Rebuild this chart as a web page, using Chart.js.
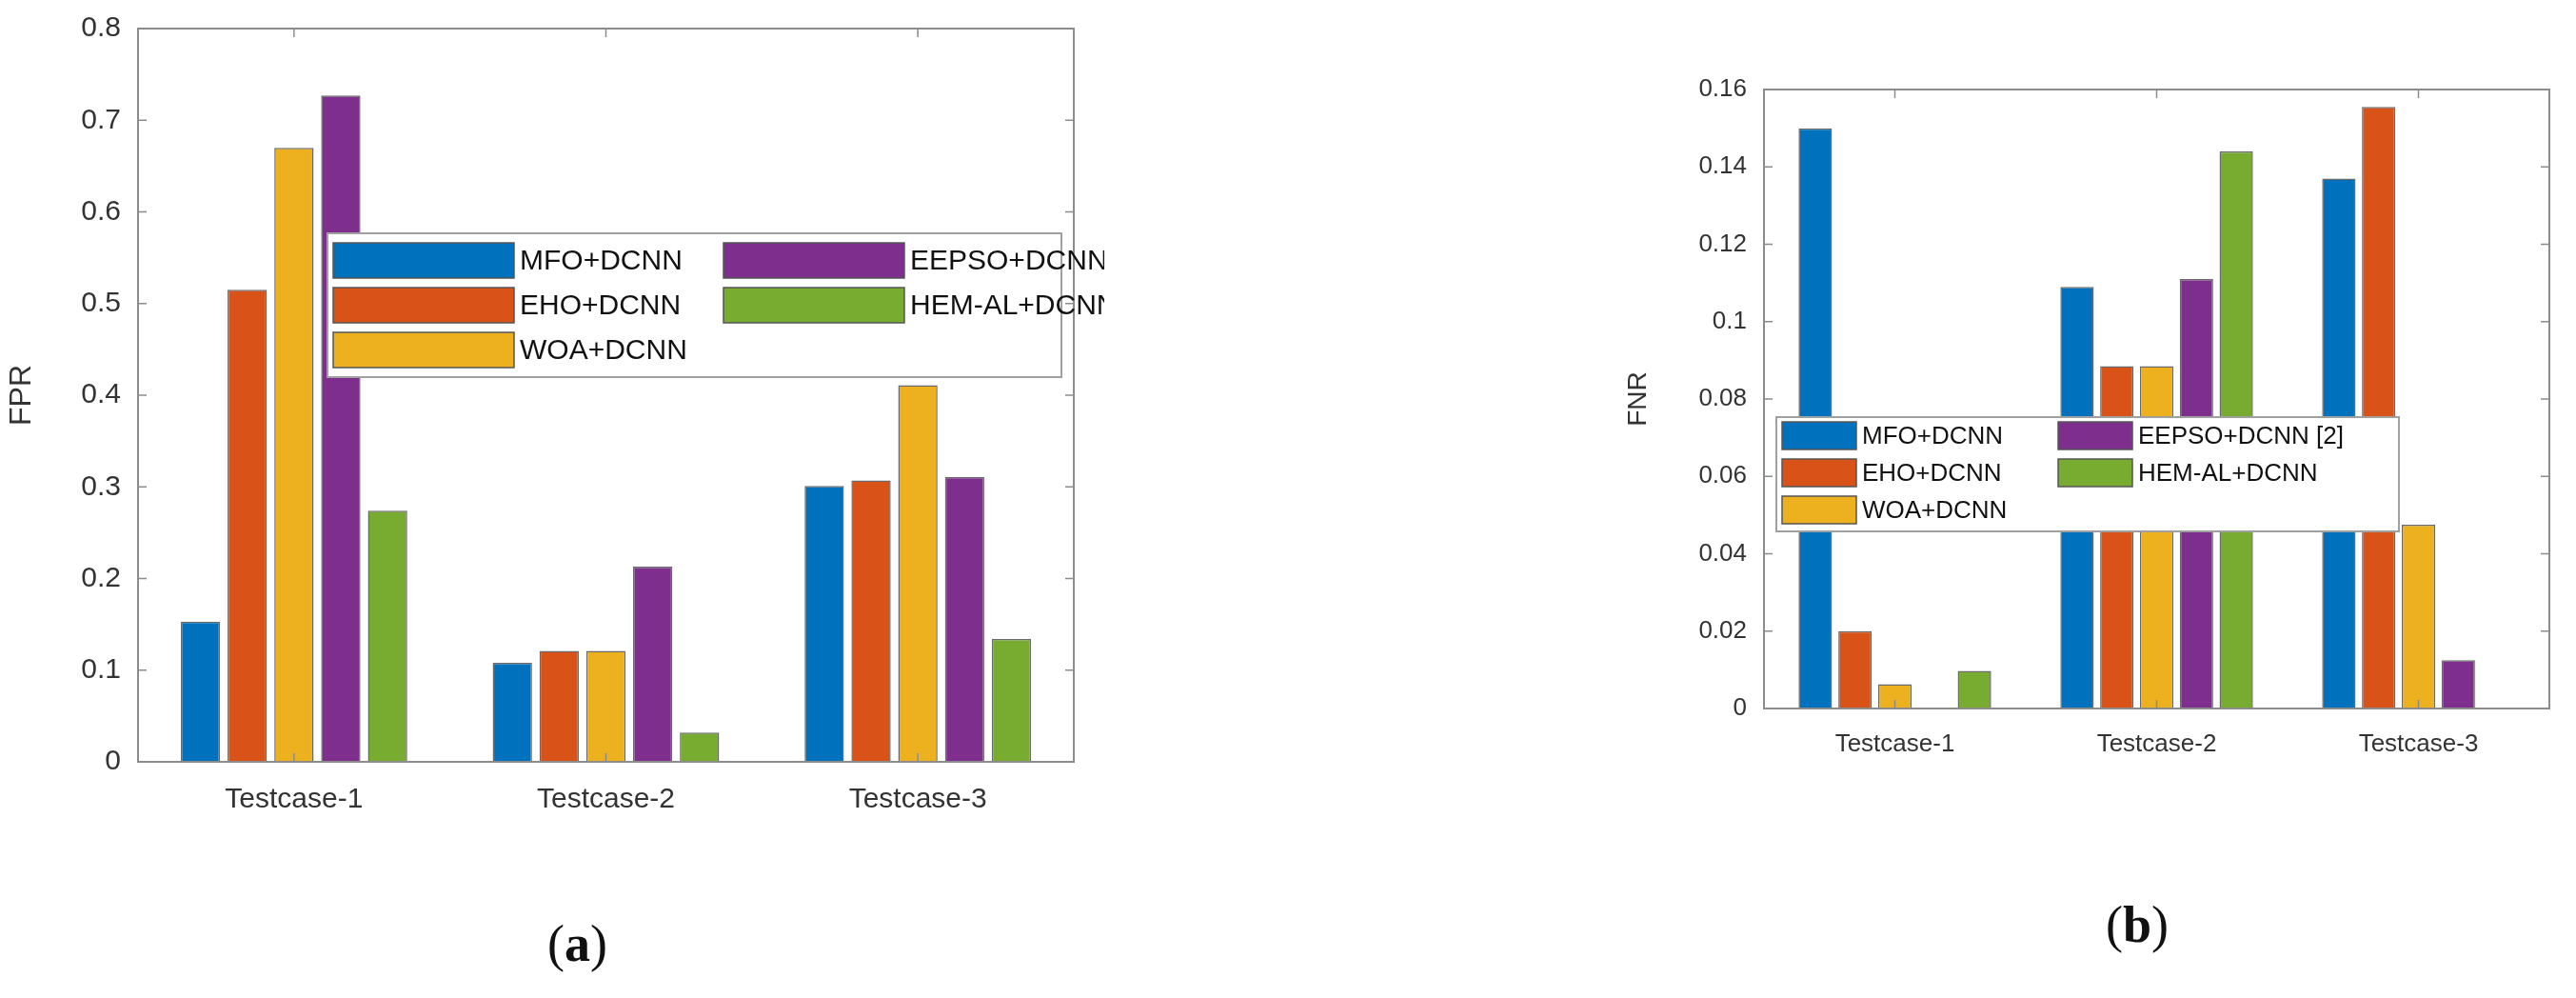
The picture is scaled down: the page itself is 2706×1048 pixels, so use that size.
<!DOCTYPE html>
<html><head><meta charset="utf-8">
<script src="https://cdn.jsdelivr.net/npm/chart.js@4"></script>
<style>
body{margin:0;background:#fff;width:2706px;height:1048px;position:relative;overflow:hidden;font-family:"Liberation Sans",Arial,sans-serif}
.c{position:absolute}
.cap{position:absolute;font-family:"Liberation Serif","DejaVu Serif",serif;font-size:54px;color:#111}
</style></head><body>
<div class="c" style="left:0;top:0;width:1160px;height:880px"><canvas id="c1"></canvas></div>
<div class="c" style="left:1700px;top:0;width:1006px;height:830px"><canvas id="c2"></canvas></div>
<div class="cap" style="left:575px;top:960px">(<b>a</b>)</div>
<div class="cap" style="left:2212px;top:940px">(<b>b</b>)</div>
<script>
const categories=["Testcase-1","Testcase-2","Testcase-3"];
const seriesNames=["MFO+DCNN","EHO+DCNN","WOA+DCNN","EEPSO+DCNN [2]","HEM-AL+DCNN"];
const colors=["#0072BD","#D95319","#EDB120","#7E2F8E","#77AC30"];
const fprMFO=[0.153,0.108,0.301];
const fprEHO=[0.515,0.121,0.307];
const fprWOA=[0.670,0.121,0.411];
const fprEEPSO=[0.727,0.213,0.311];
const fprHEM=[0.274,0.032,0.134];
const fnrMFO=[0.150,0.109,0.137];
const fnrEHO=[0.020,0.0885,0.1555];
const fnrWOA=[0.0063,0.0885,0.0475];
const fnrEEPSO=[0,0.111,0.0125];
const fnrHEM=[0.0097,0.144,0];
const fprTicks=[0,0.1,0.2,0.3,0.4,0.5,0.6,0.7,0.8];
const fnrTicks=[0,0.02,0.04,0.06,0.08,0.1,0.12,0.14,0.16];

function boxPlugin(leg){return{id:'box',afterDraw(ch){
  const c=ch.ctx,a=ch.chartArea;c.save();c.strokeStyle='#8c8c8c';c.lineWidth=2;
  c.strokeRect(a.left,a.top,a.right-a.left,a.bottom-a.top);
  const y=ch.scales.y,x=ch.scales.x;c.lineWidth=1.5;
  y.ticks.forEach(t=>{const p=y.getPixelForValue(t.value);c.beginPath();c.moveTo(a.left,p);c.lineTo(a.left+9,p);c.moveTo(a.right,p);c.lineTo(a.right-9,p);c.stroke();});
  for(let i=0;i<categories.length;i++){const p=x.getPixelForValue(i);c.beginPath();c.moveTo(p,a.bottom);c.lineTo(p,a.bottom-9);c.moveTo(p,a.top);c.lineTo(p,a.top+9);c.stroke();}
  // legend
  c.fillStyle='#fff';c.fillRect(leg.x,leg.y,leg.w,leg.h);c.strokeStyle='#a0a0a0';c.lineWidth=2;c.strokeRect(leg.x,leg.y,leg.w,leg.h);
  c.font=leg.fs+'px "Liberation Sans",Arial';c.textBaseline='middle';
  seriesNames.forEach((n,i)=>{const col=i<3?0:1,row=i<3?i:i-3;
    const bx=leg.x+6+col*leg.cw,by=leg.y+leg.pad+row*leg.rh;
    c.fillStyle=colors[i];c.fillRect(bx,by,leg.sw,leg.rh-10);c.strokeStyle='#555';c.lineWidth=1.5;c.strokeRect(bx,by,leg.sw,leg.rh-10);
    c.fillStyle='#111';c.fillText(n,bx+leg.sw+6,by+(leg.rh-10)/2+1);});
  c.restore();}}}

function make(id,vals,ticks,max,title,yw,xh,pad,fs,cp,leg){
  const ds=vals.map((v,i)=>({label:seriesNames[i],data:v,backgroundColor:colors[i],borderColor:'#6a6a6a',borderWidth:1.5,categoryPercentage:cp,barPercentage:0.84}));
  new Chart(document.getElementById(id),{type:'bar',data:{labels:categories,datasets:ds},
   options:{responsive:true,maintainAspectRatio:false,animation:false,layout:{padding:pad},
    plugins:{legend:{display:false},tooltip:{enabled:false}},
    scales:{x:{grid:{display:false},border:{display:false},ticks:{color:'#333',font:{size:fs,family:'"Liberation Sans",Arial'},padding:14},afterFit(s){s.height=xh;}},
     y:{min:0,max:max,afterBuildTicks(s){s.ticks=ticks.map(v=>({value:v}));},grid:{display:false},border:{display:false},
      ticks:{color:'#333',font:{size:fs,family:'"Liberation Sans",Arial'},padding:10,callback:v=>String(+v.toFixed(3))},
      title:{display:true,text:title,color:'#333',font:{size:fs+2,family:'"Liberation Sans",Arial'}},afterFit(s){s.width=yw;}}}},
   plugins:[boxPlugin(leg)]});
}
make('c1',[fprMFO,fprEHO,fprWOA,fprEEPSO,fprHEM],fprTicks,0.8,'FPR',145,80,{left:0,top:30,right:32,bottom:0},30,0.75,
  {x:344,y:245,w:771,h:151,fs:30,cw:410,rh:47,pad:10,sw:190});
make('c2',[fnrMFO,fnrEHO,fnrWOA,fnrEEPSO,fnrHEM],fnrTicks,0.16,'FNR',153,86,{left:0,top:94,right:28,bottom:0},26,0.76,
  {x:166,y:438,w:654,h:120,fs:26,cw:290,rh:39,pad:5,sw:78});
</script></body></html>
